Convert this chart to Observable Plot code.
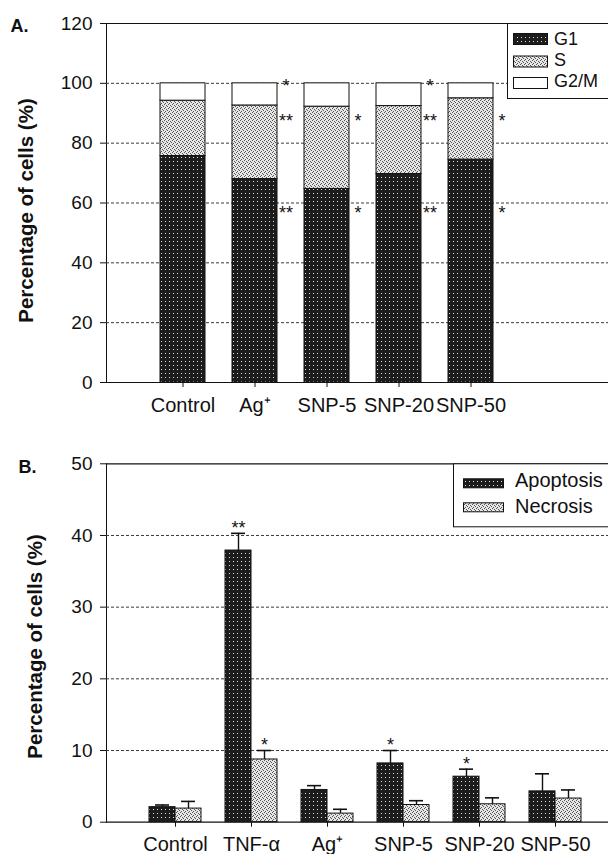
<!DOCTYPE html>
<html><head><meta charset="utf-8">
<script src="https://cdn.jsdelivr.net/npm/d3@7"></script>
<script src="https://cdn.jsdelivr.net/npm/@observablehq/plot@0.6"></script>
<style>
html,body{margin:0;padding:0;background:#fff;overflow:hidden}
#wrap{position:relative;width:608px;height:854px;overflow:hidden;background:#fff}
#wrap > svg{position:absolute;left:0}
</style></head><body>
<svg width="0" height="0" style="position:absolute;left:0;top:0">
<defs>
<pattern id="pDark" width="4" height="4" patternUnits="userSpaceOnUse">
<rect width="4" height="4" fill="#1c1c1c"/>
<rect x="1" y="1" width="1" height="1" fill="#ffffff" opacity="0.85"/>
</pattern>
<pattern id="pLight" width="4" height="4" patternUnits="userSpaceOnUse">
<rect width="4" height="4" fill="#e6e6e6"/>
<rect x="0" y="0" width="1" height="1" fill="#555"/>
<rect x="2" y="1" width="1" height="1" fill="#555"/>
<rect x="1" y="3" width="1" height="1" fill="#555"/>
<rect x="3" y="2" width="1" height="1" fill="#555"/>
</pattern>
</defs>
</svg>
<div id="wrap"></div>
<script>
// ---------- Panel A data: cell-cycle distribution ----------
const phases = ["G1", "S", "G2/M"];
const cellCycleCats = ["Control", "Ag⁺", "SNP-5", "SNP-20", "SNP-50"];
const g1Pct  = [75.7, 68.0, 64.7, 69.7, 74.5];
const sPct   = [18.5, 24.6, 27.5, 22.7, 20.5];
const g2mPct = [5.8, 7.4, 7.8, 7.6, 5.0];
const sigG1  = ["", "**", "*", "**", "*"];
const sigS   = ["", "**", "*", "**", "*"];
const sigG2M = ["", "*", "", "*", ""];
const starLevelsA = [57.8, 88.6, 100.3]; // G1, S, G2/M annotation levels
const yTicksA = [0, 20, 40, 60, 80, 100, 120];

// ---------- Panel B data: apoptosis / necrosis ----------
const deathSeries = ["Apoptosis", "Necrosis"];
const deathCats = ["Control", "TNF-α", "Ag⁺", "SNP-5", "SNP-20", "SNP-50"];
const apoptosis    = [2.1, 37.9, 4.5, 8.2, 6.35, 4.3];
const apoptosisErr = [0.3, 2.4, 0.6, 1.8, 1.05, 2.45];
const necrosis     = [1.9, 8.75, 1.2, 2.4, 2.5, 3.3];
const necrosisErr  = [1.0, 1.25, 0.6, 0.6, 0.9, 1.2];
const sigApop = ["", "**", "", "*", "*", ""];
const sigNec  = ["", "*", "", "", "", ""];
const yTicksB = [0, 10, 20, 30, 40, 50];

const font = "'Liberation Sans', Arial, Helvetica, sans-serif";
const wrap = document.getElementById("wrap");
const gridStyle = {stroke: "#3a3a3a", strokeWidth: 1, strokeDasharray: "3,2"};
const ink = "#111";

// ---------- Panel A ----------
const rowsA = cellCycleCats.flatMap((cat, i) => [
  {cat, phase: phases[0], value: g1Pct[i]},
  {cat, phase: phases[1], value: sPct[i]},
  {cat, phase: phases[2], value: g2mPct[i]}
]);
const starsA = cellCycleCats.flatMap((cat, i) => [
  {cat, level: starLevelsA[0], mark: sigG1[i]},
  {cat, level: starLevelsA[1], mark: sigS[i]},
  {cat, level: starLevelsA[2], mark: sigG2M[i]}
]).filter(d => d.mark);

const plotA = Plot.plot({
  width: 608, height: 425,
  marginLeft: 106, marginRight: 0, marginTop: 23, marginBottom: 43,
  style: {fontFamily: font, fontSize: "19px", color: ink, background: "transparent", overflow: "visible"},
  x: {type: "band", domain: cellCycleCats, range: [146, 506], paddingInner: 0.375, paddingOuter: 0.1875, align: 0.5,
      tickSize: 5, tickFormat: () => "", label: null},
  y: {domain: [0, 120], ticks: yTicksA, tickSize: 6, tickPadding: 8, line: true, label: null},
  color: {domain: phases, range: ["url(#pDark)", "url(#pLight)", "#ffffff"]},
  marks: [
    Plot.ruleY(yTicksA.filter(t => t > 0 && t < 120), gridStyle),
    Plot.barY(rowsA, {x: "cat", y: "value", fill: "phase", stroke: ink, strokeWidth: 1}),
    Plot.ruleY([0, 120], {stroke: ink, strokeWidth: 1.2}),
    Plot.text(starsA, {x: "cat", y: "level", text: "mark", dx: 31, dy: 4, fontSize: 18, lineAnchor: "middle"}),
    Plot.text(cellCycleCats, {x: d => d, text: d => d, frameAnchor: "bottom", lineAnchor: "top", dy: 15, fontSize: 20}),
    Plot.text(["Percentage of cells (%)"], {text: d => d, frameAnchor: "left", rotate: -90, textAnchor: "middle", lineAnchor: "middle",
      dx: -79.6, dy: 7.5, fontSize: 20.5, fontWeight: "bold"}),
    Plot.text(["A."], {text: d => d, frameAnchor: "top-left", textAnchor: "start", lineAnchor: "middle", dx: -96, dy: 3, fontSize: 18, fontWeight: "bold"})
  ]
});
plotA.style.top = "0px";
wrap.appendChild(plotA);

// ---------- Panel B ----------
const rowsB = deathCats.map((cat, i) => ({
  cat, apop: apoptosis[i], apopErr: apoptosisErr[i], nec: necrosis[i], necErr: necrosisErr[i],
  sa: sigApop[i], sn: sigNec[i]
}));

const plotB = Plot.plot({
  width: 608, height: 414,
  marginLeft: 106, marginRight: 0, marginTop: 23.3, marginBottom: 32.3,
  style: {fontFamily: font, fontSize: "19px", color: ink, background: "transparent", overflow: "visible"},
  x: {type: "band", domain: deathCats, range: [135.8, 594.2], paddingInner: 0.3194, paddingOuter: 0.1597, align: 0.5,
      tickSize: 5, tickFormat: () => "", label: null},
  y: {domain: [0, 50], ticks: yTicksB, tickSize: 6, tickPadding: 8, line: true, label: null},
  marks: [
    Plot.ruleY(yTicksB.filter(t => t > 0 && t < 50), gridStyle),
    Plot.ruleX(rowsB, {x: "cat", y1: "apop", y2: d => d.apop + d.apopErr, dx: -13, stroke: ink, strokeWidth: 1.4}),
    Plot.ruleX(rowsB, {x: "cat", y1: "nec", y2: d => d.nec + d.necErr, dx: 13, stroke: ink, strokeWidth: 1.4}),
    Plot.tickY(rowsB, {x: "cat", y: d => d.apop + d.apopErr, insetLeft: 6, insetRight: 32, stroke: ink, strokeWidth: 1.6}),
    Plot.tickY(rowsB, {x: "cat", y: d => d.nec + d.necErr, insetLeft: 32, insetRight: 6, stroke: ink, strokeWidth: 1.6}),
    Plot.barY(rowsB, {x: "cat", y: "apop", insetRight: 26, fill: "url(#pDark)", stroke: ink, strokeWidth: 1}),
    Plot.barY(rowsB, {x: "cat", y: "nec", insetLeft: 26, fill: "url(#pLight)", stroke: ink, strokeWidth: 1}),
    Plot.ruleY([0, 50], {stroke: ink, strokeWidth: 1.2}),
    Plot.text(rowsB.filter(d => d.sa), {x: "cat", y: d => d.apop + d.apopErr, text: "sa", dx: -13, dy: -5, fontSize: 18, lineAnchor: "middle"}),
    Plot.text(rowsB.filter(d => d.sn), {x: "cat", y: d => d.nec + d.necErr, text: "sn", dx: 13, dy: -5, fontSize: 18, lineAnchor: "middle"}),
    Plot.text(deathCats, {x: d => d, text: d => d, frameAnchor: "bottom", lineAnchor: "top", dy: 15, fontSize: 20}),
    Plot.text(["Percentage of cells (%)"], {text: d => d, frameAnchor: "left", rotate: -90, textAnchor: "middle", lineAnchor: "middle",
      dx: -70.6, dy: 3.5, fontSize: 20.5, fontWeight: "bold"}),
    Plot.text(["B."], {text: d => d, frameAnchor: "top-left", textAnchor: "start", lineAnchor: "middle", dx: -88, dy: 3, fontSize: 18, fontWeight: "bold"})
  ]
});
plotB.style.top = "440px";
wrap.appendChild(plotB);

// ---------- Legends (drawn inside the plot frames, top-right) ----------
const leg = d3.create("svg").attr("width", 608).attr("height", 854)
  .style("top", "0px").style("font-family", font).style("pointer-events", "none");

function drawLegend(cfg) {
  const g = leg.append("g");
  g.append("rect").attr("x", cfg.x + 0.5).attr("y", cfg.y + 0.5).attr("width", cfg.w).attr("height", cfg.h)
    .attr("fill", "#fff").attr("stroke", ink).attr("stroke-width", 1);
  cfg.items.forEach((it, i) => {
    g.append("rect").attr("x", cfg.x + cfg.swX + 0.5).attr("y", cfg.y + cfg.swY[i] + 0.5)
      .attr("width", cfg.swW).attr("height", cfg.swH).attr("fill", it.fill).attr("stroke", ink).attr("stroke-width", 1);
    g.append("text").attr("x", cfg.x + cfg.txX).attr("y", cfg.y + cfg.txY[i])
      .attr("font-size", cfg.fs).attr("fill", ink).text(it.label);
  });
}
drawLegend({
  x: 507, y: 23, w: 140, h: 75,
  swX: 6, swW: 34, swH: 11, swY: [10, 32.5, 54],
  txX: 47, txY: [22, 43, 64], fs: 18,
  items: [{label: phases[0], fill: "url(#pDark)"}, {label: phases[1], fill: "url(#pLight)"}, {label: phases[2], fill: "#fff"}]
});
drawLegend({
  x: 453, y: 463.3, w: 200, h: 63,
  swX: 10, swW: 40, swH: 9, swY: [15, 39],
  txX: 62, txY: [23.5, 50], fs: 20,
  items: [{label: deathSeries[0], fill: "url(#pDark)"}, {label: deathSeries[1], fill: "url(#pLight)"}]
});
wrap.appendChild(leg.node());
</script>
</body></html>
